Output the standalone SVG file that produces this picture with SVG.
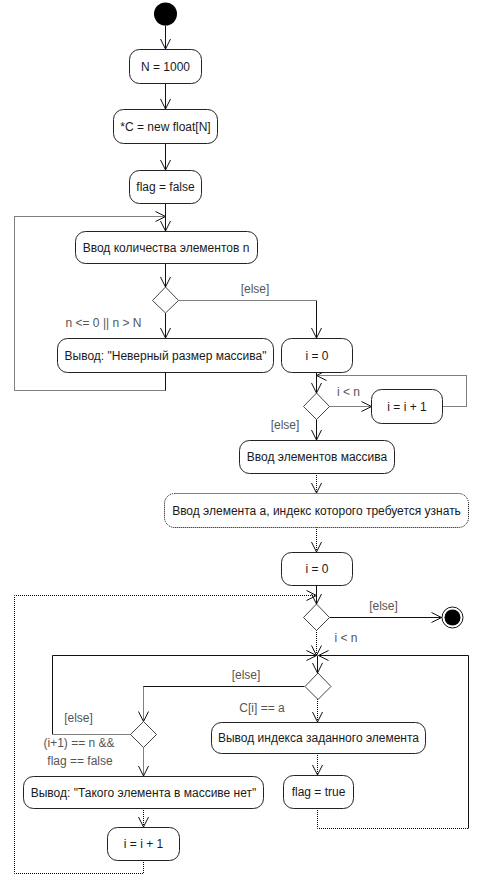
<svg xmlns="http://www.w3.org/2000/svg" width="483" height="890" viewBox="0 0 483 890">
<style>
.box{fill:#fff;stroke:#222;stroke-width:1}
.boxd{fill:#fff;stroke:#000;stroke-width:1;stroke-dasharray:1 1}
.dia{fill:#fff;stroke:#444;stroke-width:1}
.t{font-family:"Liberation Sans",Arial,sans-serif;font-size:12px;fill:#1a1a1a;text-anchor:middle}
.g{font-family:"Liberation Sans",Arial,sans-serif;font-size:12px;fill:#555;text-anchor:middle}
.s{fill:none;stroke:#111;stroke-width:1}
.d{fill:none;stroke:#000;stroke-width:1;stroke-dasharray:1 1}
</style>
<defs>
<marker id="ar" viewBox="-11 -6 12 12" markerWidth="12" markerHeight="12" refX="0" refY="0" orient="auto" markerUnits="userSpaceOnUse">
<path d="M-10,-5 L0,0 L-10,5" fill="none" stroke="#111" stroke-width="1"/>
</marker>
</defs>
<rect width="483" height="890" fill="#fff"/>
<g id="connectors">
<path class="s" d="M165.5,25.5 V49" marker-end="url(#ar)"/>
<path class="s" d="M165.5,83 V109" marker-end="url(#ar)"/>
<path class="s" d="M165.5,143 V170" marker-end="url(#ar)"/>
<path class="s" d="M165.5,203 V231" marker-end="url(#ar)"/>
<path class="s" d="M165.5,372 V390.5"/>
<path class="d" d="M165.5,390.5 H14.5 V216.5 H165.5" marker-end="url(#ar)"/>
<path class="s" d="M165.5,263 V287" marker-end="url(#ar)"/>
<path class="s" d="M165.5,313 V338" marker-end="url(#ar)"/>
<path class="d" d="M178.5,300.5 H316.5"/>
<path class="s" d="M316.5,300.5 V338" marker-end="url(#ar)"/>
<path class="s" d="M316.5,372 V393" marker-end="url(#ar)"/>
<path class="d" d="M329.5,406.5 H371.5" marker-end="url(#ar)"/>
<path class="d" d="M442.5,406.5 H466.5 V375.5 H316.5" marker-end="url(#ar)"/>
<path class="s" d="M316.5,419 V440" marker-end="url(#ar)"/>
<path class="d" d="M316.5,473 V493" marker-end="url(#ar)"/>
<path class="d" d="M316.5,527 V552" marker-end="url(#ar)"/>
<path class="s" d="M316.5,585 V604" marker-end="url(#ar)"/>
<path class="d" d="M143.5,860 V873.5 H14.5 V595.5 H316.5" marker-end="url(#ar)"/>
<path class="s" d="M329.5,617.5 H441.5" marker-end="url(#ar)"/>
<path class="d" d="M316.5,630 V655.5" marker-end="url(#ar)"/>
<path class="s" d="M317.5,655.5 V673" marker-end="url(#ar)"/>
<path class="d" d="M130.5,734.5 H52.5"/>
<path class="s" d="M52.5,734.5 V655.5 H316.5" marker-end="url(#ar)"/>
<path class="d" d="M317.5,808 V828.5 H468.5"/>
<path class="s" d="M468.5,828.5 V655.5 H318.5" marker-end="url(#ar)"/>
<path class="s" d="M304.5,686.5 H143.5"/>
<path class="d" d="M143.5,686.5 V721.5" marker-end="url(#ar)"/>
<path class="d" d="M317.5,699 V722" marker-end="url(#ar)"/>
<path class="d" d="M317.5,753 V775" marker-end="url(#ar)"/>
<path class="d" d="M143.5,747.5 V776" marker-end="url(#ar)"/>
<path class="d" d="M143.5,808 V827" marker-end="url(#ar)"/>
<text class="g" x="103.5" y="327">n &lt;= 0 || n &gt; N</text>
<text class="g" x="255" y="293">[else]</text>
<text class="g" x="348.5" y="396">i &lt; n</text>
<text class="g" x="285" y="429">[else]</text>
<text class="g" x="383.5" y="610">[else]</text>
<text class="g" x="346" y="642">i &lt; n</text>
<text class="g" x="246" y="679">[else]</text>
<text class="g" x="262" y="712">C[i] == a</text>
<text class="g" x="78.5" y="722">[else]</text>
<text class="g" x="79" y="747">(i+1) == n &amp;&amp;</text>
<text class="g" x="80" y="765">flag == false</text>
</g>
<g id="start"><circle cx="165.5" cy="14" r="11.5" fill="#000"/></g>
<g id="n1000"><rect class="box" x="129.5" y="49.5" width="72" height="34" rx="10"/><text class="t" x="165.5" y="70.5">N = 1000</text></g>
<g id="newC"><rect class="box" x="113.5" y="109.5" width="104" height="34" rx="10"/><text class="t" x="165.5" y="130.5">*C = new float[N]</text></g>
<g id="flagFalse"><rect class="box" x="129.5" y="170.5" width="72" height="33" rx="10"/><text class="t" x="165.5" y="191">flag = false</text></g>
<g id="inputN"><rect class="box" x="75.5" y="231.5" width="182" height="32" rx="10"/><text class="t" x="166" y="251.5">Ввод количества элементов n</text></g>
<g id="dec1"><polygon class="dia" points="165.5,287 178.5,300.5 165.5,313 152.5,300.5"/></g>
<g id="badSize"><rect class="box" x="57.5" y="338.5" width="216" height="34" rx="10"/><text class="t" x="165.5" y="359.5">Вывод: "Неверный размер массива"</text></g>
<g id="i0a"><rect class="box" x="281.5" y="338.5" width="71" height="34" rx="10"/><text class="t" x="317" y="359.5">i = 0</text></g>
<g id="dec2"><polygon class="dia" points="316.5,393 329.5,406.5 316.5,419.5 303.5,406.5"/></g>
<g id="inc1"><rect class="box" x="371.5" y="389.5" width="71" height="34" rx="10"/><text class="t" x="407" y="410.5">i = i + 1</text></g>
<g id="inputArr"><rect class="box" x="239.5" y="440.5" width="155" height="33" rx="10"/><text class="t" x="317" y="461">Ввод элементов массива</text></g>
<g id="inputA"><rect class="boxd" x="164.5" y="493.5" width="304" height="34" rx="10"/><text class="t" x="316.5" y="514.5">Ввод элемента а, индекс которого требуется узнать</text></g>
<g id="i0b"><rect class="box" x="281.5" y="552.5" width="71" height="33" rx="10"/><text class="t" x="317" y="573">i = 0</text></g>
<g id="dec3"><polygon class="dia" points="316.5,604 329.5,617.5 316.5,630.5 303.5,617.5"/></g>
<g id="final"><circle cx="452.5" cy="617.5" r="10.5" fill="#fff" stroke="#111"/><circle cx="452.5" cy="617.5" r="8" fill="#000"/></g>
<g id="dec4"><polygon class="dia" points="318,673 331,686.5 318,699.5 305,686.5"/></g>
<g id="outIdx"><rect class="box" x="211.5" y="722.5" width="214" height="31" rx="10"/><text class="t" x="318.5" y="742">Вывод индекса заданного элемента</text></g>
<g id="flagTrue"><rect class="box" x="283.5" y="775.5" width="70" height="33" rx="10"/><text class="t" x="318.5" y="796">flag = true</text></g>
<g id="dec5"><polygon class="dia" points="143.5,721.5 156.5,734.5 143.5,747.5 130.5,734.5"/></g>
<g id="notFound"><rect class="box" x="23.5" y="776.5" width="240" height="32" rx="10"/><text class="t" x="143.5" y="796.5">Вывод: "Такого элемента в массиве нет"</text></g>
<g id="inc2"><rect class="box" x="107.5" y="827.5" width="72" height="33" rx="10"/><text class="t" x="143.5" y="848">i = i + 1</text></g>
</svg>
